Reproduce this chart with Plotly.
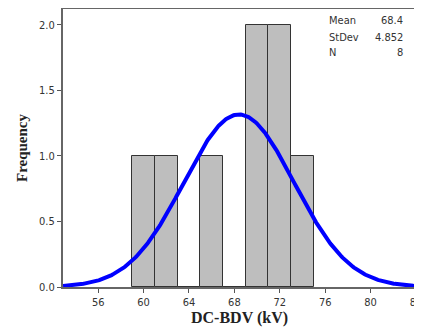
import numpy as np
import plotly.graph_objects as go

bin_centers = [60, 62, 64, 66, 68, 70, 72, 74]
counts = [1, 1, 0, 1, 0, 2, 2, 1]
bin_width = 2
mean_v = 68.4
std_v = 4.852
n_v = 8
x_ticks = [56, 60, 64, 68, 72, 76, 80, 84]
y_ticks = [0.0, 0.5, 1.0, 1.5, 2.0]
x_range = [52.9, 84.0]

xs = np.linspace(x_range[0], x_range[1], 400)
ys = n_v * bin_width / (std_v * np.sqrt(2 * np.pi)) * np.exp(-0.5 * ((xs - mean_v) / std_v) ** 2)

fig = go.Figure()
fig.add_trace(go.Bar(x=bin_centers, y=counts, width=bin_width,
                     marker=dict(color="#BEBEBE", line=dict(color="#333333", width=1))))
fig.add_trace(go.Scatter(x=xs, y=ys, mode="lines", line=dict(color="#0000FF", width=4)))

tick_font = dict(family="DejaVu Sans Condensed, DejaVu Sans", size=11, color="#333333")
fig.update_layout(
    width=414, height=320,
    margin=dict(l=55, r=6, t=1, b=41, autoexpand=False),
    paper_bgcolor="white", plot_bgcolor="white",
    showlegend=False, bargap=0,
    xaxis=dict(range=x_range, tickvals=x_ticks, ticks="outside", ticklen=4,
               tickcolor="#555555", showline=True, linecolor="#666666", linewidth=2,
               mirror=True, showgrid=False, zeroline=False, tickfont=tick_font,
               ticklabeloverflow="allow",
               title=dict(text="<b>DC-BDV (kV)</b>", standoff=4,
                          font=dict(family="Liberation Serif", size=16, color="#222222"))),
    yaxis=dict(range=[0, 2.12], tickvals=y_ticks, tickformat=".1f", ticks="outside", ticklen=4,
               tickcolor="#555555", showline=True, linecolor="#666666", linewidth=2,
               mirror=True, showgrid=False, zeroline=False, tickfont=tick_font,
               title=dict(text="<b>Frequency</b>", standoff=8,
                          font=dict(family="Liberation Serif", size=15, color="#222222"))),
)

labels = ["Mean", "StDev", "N"]
values = [f"{mean_v}", f"{std_v}", f"{n_v}"]
ypos = [0.960, 0.899, 0.842]
for lab, val, yp in zip(labels, values, ypos):
    fig.add_annotation(x=0.749, y=yp, xref="paper", yref="paper", text=lab, showarrow=False,
                       xanchor="left", yanchor="middle", font=tick_font)
    fig.add_annotation(x=0.969, y=yp, xref="paper", yref="paper", text=val, showarrow=False,
                       xanchor="right", yanchor="middle", font=tick_font)

fig.write_html("out.html")
